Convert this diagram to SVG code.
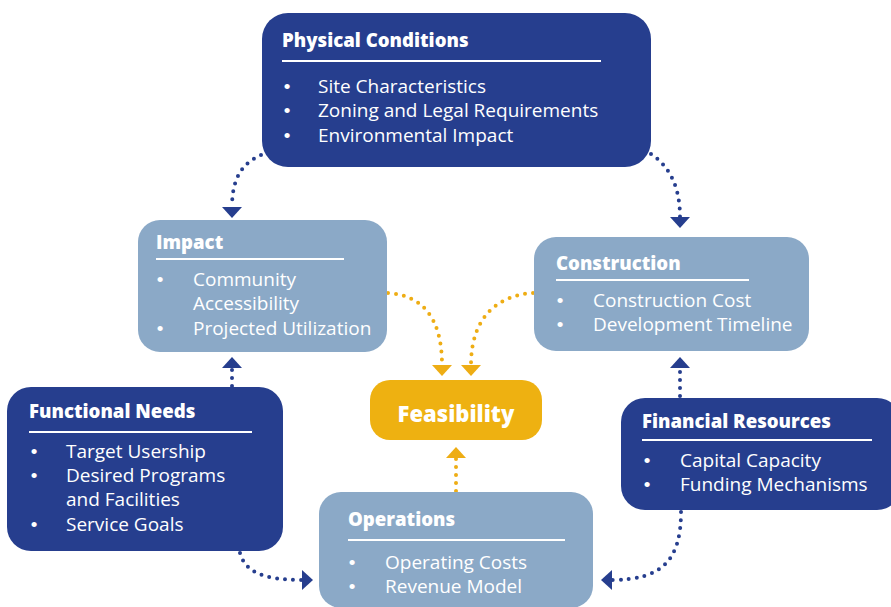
<svg xmlns="http://www.w3.org/2000/svg" width="891" height="607" viewBox="0 0 891 607">
  <style>
    .dark { fill: #263E8E; }
    .light { fill: #8BA9C7; }
    .gold { fill: #EEB111; }
    .title { font-family: "Open Sans", "Liberation Sans", sans-serif; font-weight: 800; font-size: 18.6px; fill: #FFFFFF; }
    .item { font-family: "Open Sans", "Liberation Sans", sans-serif; font-size: 19px; fill: #FFFFFF; }
    .dot { font-family: "Liberation Sans", sans-serif; font-size: 19px; fill: #FFFFFF; text-anchor: middle; }
    .rule { stroke: #FFFFFF; stroke-width: 2; }
    .link { fill: none; stroke-width: 4; stroke-dasharray: 0 8; stroke-linecap: round; }
    .blue { stroke: #263E8E; }
    .amber { stroke: #EEAD14; }
  </style>
  <defs>
    <marker id="headBlue" viewBox="0 0 11 20" markerWidth="11" markerHeight="20" refX="0" refY="10" orient="auto" markerUnits="userSpaceOnUse">
      <path d="M0,0 L11,10 L0,20 Z" fill="#263E8E"/>
    </marker>
    <marker id="headAmber" viewBox="0 0 11 20" markerWidth="11" markerHeight="20" refX="0" refY="10" orient="auto" markerUnits="userSpaceOnUse">
      <path d="M0,0 L11,10 L0,20 Z" fill="#EEAD14"/>
    </marker>
  </defs>

  <!-- connectors -->
  <g id="connectors">
    <path class="link blue" d="M261,155 C245,162 232,175 232,207" marker-end="url(#headBlue)"/>
    <path class="link blue" d="M651,154 C666,164 680,182 680,217" marker-end="url(#headBlue)"/>
    <path class="link blue" d="M232,386 L232,368" marker-end="url(#headBlue)"/>
    <path class="link blue" d="M680,396 L680,368" marker-end="url(#headBlue)"/>
    <path class="link blue" d="M240,553 C245,571 262,580 302,580" marker-end="url(#headBlue)"/>
    <path class="link blue" d="M681,512 C681,560 662,580 612,580" marker-end="url(#headBlue)"/>
    <path class="link amber" d="M388,293 C420,295 442,315 442,365" marker-end="url(#headAmber)"/>
    <path class="link amber" d="M533,293 C500,295 471,315 471,365" marker-end="url(#headAmber)"/>
    <path class="link amber" d="M456,491 L456,458" marker-end="url(#headAmber)"/>
  </g>

  <!-- Physical Conditions -->
  <g id="physical">
    <rect class="dark" x="262" y="13" width="389" height="154" rx="26"/>
    <text class="title" x="282" y="47">Physical Conditions</text>
    <line class="rule" x1="282" y1="61" x2="601" y2="61"/>
    <text class="dot" x="287" y="93">•</text>
    <text class="item" x="318" y="93">Site Characteristics</text>
    <text class="dot" x="287" y="117">•</text>
    <text class="item" x="318" y="117">Zoning and Legal Requirements</text>
    <text class="dot" x="287" y="142">•</text>
    <text class="item" x="318" y="142">Environmental Impact</text>
  </g>

  <!-- Impact -->
  <g id="impact">
    <rect class="light" x="138" y="220" width="249" height="132" rx="22"/>
    <text class="title" x="156" y="249">Impact</text>
    <line class="rule" x1="156" y1="259" x2="344" y2="259"/>
    <text class="dot" x="160" y="286">•</text>
    <text class="item" x="193" y="286">Community</text>
    <text class="item" x="193" y="310">Accessibility</text>
    <text class="dot" x="160" y="335">•</text>
    <text class="item" x="193" y="335">Projected Utilization</text>
  </g>

  <!-- Construction -->
  <g id="construction">
    <rect class="light" x="534" y="237" width="275" height="114" rx="22"/>
    <text class="title" x="556" y="270">Construction</text>
    <line class="rule" x1="556" y1="280" x2="749" y2="280"/>
    <text class="dot" x="560" y="307">•</text>
    <text class="item" x="593" y="307">Construction Cost</text>
    <text class="dot" x="560" y="331">•</text>
    <text class="item" x="593" y="331">Development Timeline</text>
  </g>

  <!-- Feasibility -->
  <g id="feasibility">
    <rect class="gold" x="370" y="380" width="172" height="60" rx="20"/>
    <text class="title" x="456" y="422" text-anchor="middle" style="font-size:22px">Feasibility</text>
  </g>

  <!-- Functional Needs -->
  <g id="functional">
    <rect class="dark" x="7" y="387" width="276" height="164" rx="24"/>
    <text class="title" x="29" y="418">Functional Needs</text>
    <line class="rule" x1="29" y1="432" x2="252" y2="432"/>
    <text class="dot" x="34" y="458">•</text>
    <text class="item" x="66" y="458">Target Usership</text>
    <text class="dot" x="34" y="482">•</text>
    <text class="item" x="66" y="482">Desired Programs</text>
    <text class="item" x="66" y="506">and Facilities</text>
    <text class="dot" x="34" y="531">•</text>
    <text class="item" x="66" y="531">Service Goals</text>
  </g>

  <!-- Operations -->
  <g id="operations">
    <rect class="light" x="319" y="492" width="274" height="116" rx="22"/>
    <text class="title" x="348" y="526">Operations</text>
    <line class="rule" x1="348" y1="540" x2="565" y2="540"/>
    <text class="dot" x="352" y="569">•</text>
    <text class="item" x="385" y="569">Operating Costs</text>
    <text class="dot" x="352" y="593">•</text>
    <text class="item" x="385" y="593">Revenue Model</text>
  </g>

  <!-- Financial Resources -->
  <g id="financial">
    <rect class="dark" x="621" y="398" width="280" height="112" rx="24"/>
    <text class="title" x="642" y="428">Financial Resources</text>
    <line class="rule" x1="642" y1="440" x2="872" y2="440"/>
    <text class="dot" x="647" y="467">•</text>
    <text class="item" x="680" y="467">Capital Capacity</text>
    <text class="dot" x="647" y="491">•</text>
    <text class="item" x="680" y="491">Funding Mechanisms</text>
  </g>
</svg>
